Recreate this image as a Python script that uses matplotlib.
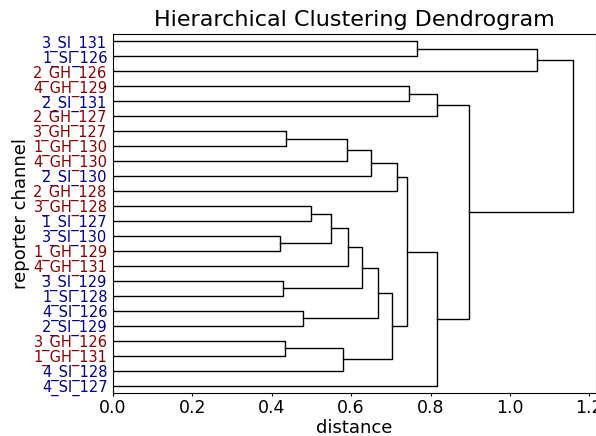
import matplotlib
matplotlib.use('Agg')
import matplotlib.pyplot as plt

# Leaf labels, top to bottom as they appear in the dendrogram
leaves = ['3_SI_131', '1_SI_126', '2_GH_126', '4_GH_129', '2_SI_131', '2_GH_127',
          '3_GH_127', '1_GH_130', '4_GH_130', '2_SI_130', '2_GH_128', '3_GH_128',
          '1_SI_127', '3_SI_130', '1_GH_129', '4_GH_131', '3_SI_129', '1_SI_128',
          '4_SI_126', '2_SI_129', '3_GH_126', '1_GH_131', '4_SI_128', '4_SI_127']

# Linkage (scipy style): cluster ids >= len(leaves) are earlier merges
merge_a = [13, 16, 20, 6, 18, 11, 29, 26, 27, 30, 33, 32, 34, 36, 35, 38, 3, 0, 40, 39, 42, 41, 45]
merge_b = [14, 17, 21, 7, 19, 12, 24, 22, 8, 15, 25, 9, 28, 31, 10, 37, 4, 1, 5, 23, 43, 2, 44]
merge_dist = [0.420, 0.429, 0.434, 0.437, 0.478, 0.500, 0.550, 0.580, 0.590, 0.592,
              0.628, 0.649, 0.667, 0.703, 0.715, 0.741, 0.745, 0.765, 0.816, 0.817,
              0.897, 1.068, 1.159]

group_colors = {'SI': 'darkblue', 'GH': 'darkred'}

n = len(leaves)
# leaf y positions like scipy: 5, 15, ... from the bottom
ypos = [5 + 10 * (n - 1 - i) for i in range(n)]
height = [0.0] * n

fig = plt.figure(figsize=(5.96, 4.36), dpi=100)
ax = fig.add_axes([0.1896, 0.0986, 0.8104, 0.8234])

for a, b, d in zip(merge_a, merge_b, merge_dist):
    ya, yb = ypos[a], ypos[b]
    ax.plot([height[a], d, d, height[b]], [ya, ya, yb, yb], color='k', lw=1.0)
    ypos.append((ya + yb) / 2.0)
    height.append(d)

ax.set_xlim(0, max(merge_dist) * 1.05)
ax.set_ylim(0, 10 * n)
ax.set_yticks(ypos[:n])
ax.set_yticklabels(leaves, fontsize=10.5)
for lbl in ax.get_yticklabels():
    lbl.set_color(group_colors[lbl.get_text().split('_')[1]])
ax.tick_params(axis='y', length=0, pad=4)
ax.tick_params(axis='x', labelsize=12.5, length=2.5, pad=2)

ax.set_title('Hierarchical Clustering Dendrogram', fontsize=16)
ax.set_xlabel('distance', fontsize=13, labelpad=1)
ax.set_ylabel('reporter channel', fontsize=13, labelpad=2)

fig.savefig('out.png', dpi=100)
